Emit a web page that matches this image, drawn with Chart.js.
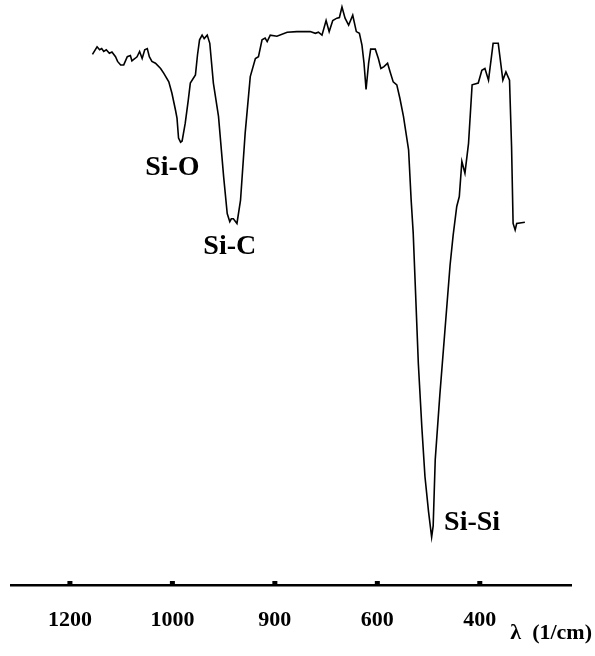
<!DOCTYPE html>
<html>
<head>
<meta charset="utf-8">
<script src="https://cdn.jsdelivr.net/npm/chart.js@4/dist/chart.umd.min.js"></script>
<style>
  html, body { margin: 0; padding: 0; background: #ffffff; }
  #c { display: block; }
</style>
</head>
<body>
<canvas id="c" width="595" height="656"></canvas>
<script>
// Wavenumber (1/cm) of each sampled point of the spectrum
const wavenumbers = [
  1156, 1147, 1142, 1138, 1134, 1129, 1123, 1118, 1111, 1107,
  1101, 1095, 1088, 1082, 1079, 1073, 1069, 1064, 1059, 1054,
  1049, 1045, 1040, 1033, 1023, 1017, 1007, 1001, 994, 991,
  988, 984, 981, 975, 969, 965, 955, 951, 947, 942,
  938, 932, 927, 920, 910, 900, 893, 888, 885, 881,
  874, 867, 858, 848, 838, 832, 825, 819, 815, 809,
  796, 776, 757, 731, 721, 715, 708, 700, 694, 687,
  679, 674, 669, 663, 656, 648, 641, 635, 630, 626,
  622, 617, 613, 604, 598, 593, 587, 580, 575, 569,
  562, 556, 549, 539, 534, 530, 525, 520, 513, 507,
  500, 494, 491, 487, 478, 468, 458, 452, 445, 440,
  435, 429, 422, 415, 403, 396, 390, 383, 374, 364,
  355, 349, 342, 338, 335, 331, 328, 312
];
// Relative intensity (arbitrary units, 0-100)
const intensity = [
  90.7, 92.0, 91.5, 91.7, 91.2, 91.5, 90.9, 91.1, 90.3, 89.5,
  88.9, 88.9, 90.3, 90.5, 89.6, 90.0, 90.3, 91.2, 90.0, 91.5,
  91.7, 90.3, 89.5, 89.2, 88.3, 87.5, 86.0, 84.1, 81.2, 79.8,
  76.4, 75.7, 75.9, 78.9, 82.9, 85.8, 87.2, 90.6, 93.2, 94.0,
  93.4, 94.0, 92.6, 85.8, 80.1, 69.8, 63.5, 62.1, 62.6, 62.6,
  61.8, 65.8, 77.2, 86.9, 90.0, 90.3, 93.2, 93.5, 92.9, 94.0,
  93.8, 94.5, 94.6, 94.6, 94.3, 94.5, 94.0, 96.5, 94.6, 96.5,
  96.9, 97.0, 98.8, 96.9, 95.7, 97.4, 94.6, 94.3, 92.3, 89.2,
  84.7, 89.2, 91.6, 91.6, 90.0, 88.3, 88.6, 89.2, 87.7, 86.0,
  85.5, 83.2, 80.1, 74.4, 65.8, 60.2, 49.1, 37.9, 26.8, 18.5,
  12.5, 8.2, 10.1, 21.4, 32.5, 43.6, 54.7, 59.8, 64.7, 66.4,
  72.4, 70.4, 75.5, 85.5, 85.8, 88.0, 88.3, 86.3, 92.6, 92.6,
  86.3, 87.7, 86.3, 74.9, 61.8, 60.7, 61.8, 62.0
];
// Axis ticks
const tickValues = [1200, 1000, 800, 600, 400];
const tickLabels = ["1200", "1000", "900", "600", "400"];
const axisTitle = "λ  (1/cm)";
// Peak annotations
const peakLabels = ["Si-O", "Si-C", "Si-Si"];
const peakX = [1000, 888, 415];
const peakY = [71.4, 57.9, 10.7];

const points = wavenumbers.map((w, i) => ({ x: w, y: intensity[i] }));

const decorPlugin = {
  id: 'decor',
  afterDraw(chart) {
    const ctx = chart.ctx;
    const xs = chart.scales.x;
    const ys = chart.scales.y;
    ctx.save();
    // small tick bumps on top of the axis line
    ctx.fillStyle = '#000';
    tickValues.forEach(v => {
      const px = xs.getPixelForValue(v);
      ctx.fillRect(px - 2.5, xs.top - 4, 5, 3);
    });
    // peak labels
    ctx.font = 'bold 28px "Liberation Serif", "Times New Roman", serif';
    ctx.textAlign = 'center';
    ctx.textBaseline = 'middle';
    peakLabels.forEach((t, i) => {
      ctx.fillText(t, xs.getPixelForValue(peakX[i]), ys.getPixelForValue(peakY[i]));
    });
    // axis title
    ctx.font = 'bold 22px "Liberation Serif", "Times New Roman", serif';
    ctx.textAlign = 'right';
    ctx.textBaseline = 'middle';
    ctx.fillText(axisTitle, xs.right + 21, xs.top + 48);
    ctx.restore();
  }
};

new Chart(document.getElementById('c'), {
  type: 'line',
  data: {
    datasets: [{
      data: points,
      borderColor: '#000',
      borderWidth: 1.6,
      pointRadius: 0,
      tension: 0,
      fill: false
    }]
  },
  options: {
    responsive: false,
    devicePixelRatio: 1,
    animation: false,
    layout: { padding: { left: 11, right: 24, top: 0, bottom: 0 } },
    plugins: { legend: { display: false }, tooltip: { enabled: false } },
    scales: {
      x: {
        type: 'linear',
        reverse: true,
        min: 222,
        max: 1315,
        afterBuildTicks: (scale) => { scale.ticks = tickValues.map(v => ({ value: v })); },
        afterFit: (scale) => { scale.height = 71; },
        ticks: {
          autoSkip: false,
          maxRotation: 0,
          padding: 22,
          color: '#000',
          font: { family: '"Liberation Serif", "Times New Roman", serif', size: 22, weight: 'bold' },
          callback: (value, index) => tickLabels[index]
        },
        grid: { display: true, drawOnChartArea: false, drawTicks: false },
        border: { display: true, color: '#000', width: 2.5 }
      },
      y: {
        display: false,
        min: 0,
        max: 100
      }
    }
  },
  plugins: [decorPlugin]
});
</script>
</body>
</html>
